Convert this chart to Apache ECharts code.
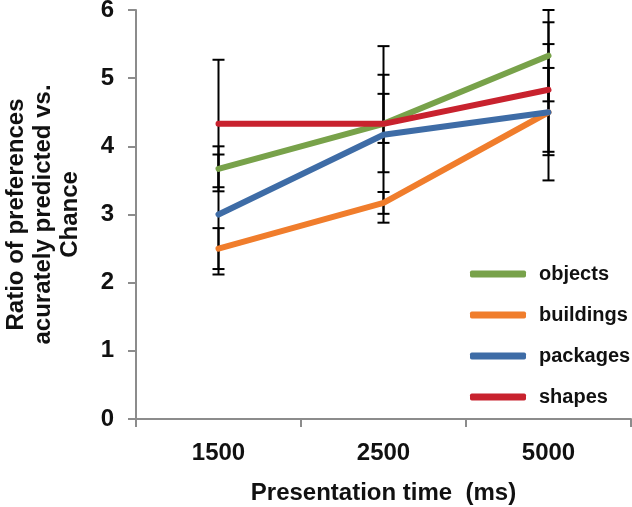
<!DOCTYPE html>
<html><head><meta charset="utf-8">
<script src="https://cdn.jsdelivr.net/npm/echarts@6/dist/echarts.min.js"></script>
<style>html,body{margin:0;padding:0;background:#fff}#c{width:632px;height:507px}</style>
</head><body><div id="c"></div>
<script>
const categories = ['1500', '2500', '5000'];
const seriesNames = ['objects', 'buildings', 'packages', 'shapes'];
const colors = ['#78a24a', '#f07d2c', '#3e6ca6', '#c8222e'];
// mean values
const objects = [3.67, 4.33, 5.33];
const buildings = [2.5, 3.17, 4.5];
const packages = [3.0, 4.17, 4.5];
const shapes = [4.33, 4.33, 4.83];
// error bar bounds (low / high)
const objectsLow = [3.34, 3.62, 4.66];
const objectsHigh = [4.0, 5.05, 6.0];
const buildingsLow = [2.2, 3.01, 3.5];
const buildingsHigh = [2.8, 3.33, 5.5];
const packagesLow = [2.12, 2.88, 3.87];
const packagesHigh = [3.88, 5.47, 5.15];
const shapesLow = [3.4, 4.05, 3.92];
const shapesHigh = [5.27, 4.77, 5.82];
const yTicks = [0, 1, 2, 3, 4, 5, 6];

const values = [objects, buildings, packages, shapes];
const lows = [objectsLow, buildingsLow, packagesLow, shapesLow];
const highs = [objectsHigh, buildingsHigh, packagesHigh, shapesHigh];

const FONT = "'Liberation Sans', Arial, sans-serif";
const chart = echarts.init(document.getElementById('c'), null, {renderer: 'canvas'});

const errData = [];
lows.forEach((lo, s) => lo.forEach((v, i) => errData.push([i, v, highs[s][i]])));

const series = [{
  type: 'custom',
  name: 'err',
  z: 1,
  silent: true,
  renderItem: function (params, api) {
    const lo = api.coord([api.value(0), api.value(1)]);
    const hi = api.coord([api.value(0), api.value(2)]);
    const w = 6;
    const st = {stroke: '#000', lineWidth: 2};
    return {type: 'group', children: [
      {type: 'line', shape: {x1: lo[0], y1: lo[1], x2: hi[0], y2: hi[1]}, style: st},
      {type: 'line', shape: {x1: lo[0] - w, y1: lo[1], x2: lo[0] + w, y2: lo[1]}, style: st},
      {type: 'line', shape: {x1: hi[0] - w, y1: hi[1], x2: hi[0] + w, y2: hi[1]}, style: st}
    ]};
  },
  encode: {x: 0, y: [1, 2]},
  data: errData
}];
seriesNames.forEach((n, s) => series.push({
  type: 'line', name: n, data: values[s], z: 3 + s,
  symbol: 'none', smooth: false,
  lineStyle: {color: colors[s], width: 6, cap: 'round', join: 'round'},
  itemStyle: {color: colors[s]}
}));

chart.setOption({
  animation: false,
  backgroundColor: '#fff',
  textStyle: {fontFamily: FONT},
  grid: {left: 136, right: 1, top: 10, bottom: 88, containLabel: false, outerBoundsMode: 'none'},
  legend: {
    data: seriesNames, orient: 'vertical', left: 465, top: 259,
    itemWidth: 56, itemHeight: 7, itemGap: 21, icon: 'roundRect',
    textStyle: {fontSize: 20, fontWeight: 'bold', color: '#111', fontFamily: FONT, padding: [0, 0, 0, 8]}
  },
  xAxis: {
    type: 'category', data: categories, boundaryGap: true,
    axisLine: {lineStyle: {color: '#8c8c8c', width: 2}},
    axisTick: {show: true, length: 8, lineStyle: {color: '#8c8c8c', width: 2}},
    axisLabel: {fontSize: 24, fontWeight: 'bold', color: '#111', margin: 22, fontFamily: FONT},
    name: 'Presentation time  (ms)', nameLocation: 'middle', nameGap: 62,
    nameTextStyle: {fontSize: 24, fontWeight: 'bold', color: '#111', fontFamily: FONT}
  },
  yAxis: {
    type: 'value', min: 0, max: 6, interval: 1,
    axisLine: {show: true, lineStyle: {color: '#8c8c8c', width: 2}},
    axisTick: {show: true, length: 8, lineStyle: {color: '#8c8c8c', width: 2}},
    splitLine: {show: false},
    axisLabel: {fontSize: 24, fontWeight: 'bold', color: '#111', margin: 22, fontFamily: FONT,
      formatter: v => yTicks.indexOf(v) >= 0 ? String(v) : ''},
    name: 'Ratio of preferences\nacurately predicted vs.\nChance', nameLocation: 'middle', nameRotate: 90, nameGap: 52,
    nameTextStyle: {fontSize: 24, fontWeight: 'bold', color: '#111', fontFamily: FONT, lineHeight: 27, align: 'center'}
  },
  series: series
});
</script></body></html>
